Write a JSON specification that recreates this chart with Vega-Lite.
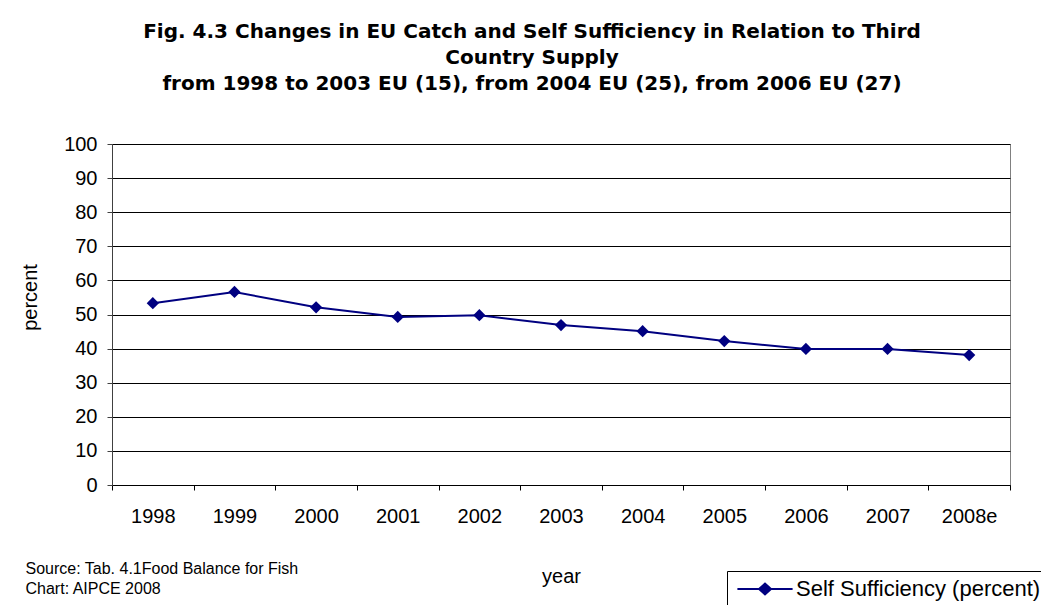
{
  "$schema": "https://vega.github.io/schema/vega-lite/v6.json",
  "width": 898,
  "height": 341,
  "autosize": "none",
  "padding": {"left": 112, "top": 144, "right": 31, "bottom": 120},
  "background": "white",
  "config": {
    "font": "Liberation Sans",
    "view": {"stroke": "#808080", "strokeWidth": 1}
  },
  "title": {
    "text": [
      "Fig. 4.3 Changes in EU Catch and Self Sufficiency in Relation to Third",
      "Country Supply",
      "from 1998 to 2003 EU (15), from 2004 EU (25), from 2006 EU (27)"
    ],
    "font": "DejaVu Sans",
    "fontSize": 20,
    "fontWeight": "bold",
    "color": "black",
    "anchor": "middle",
    "frame": "group",
    "dx": -29,
    "offset": 40,
    "lineHeight": 26
  },
  "data": {
    "values": [
      {"year": "1998", "value": 53.3, "series": "Self Sufficiency (percent)"},
      {"year": "1999", "value": 56.6, "series": "Self Sufficiency (percent)"},
      {"year": "2000", "value": 52.1, "series": "Self Sufficiency (percent)"},
      {"year": "2001", "value": 49.3, "series": "Self Sufficiency (percent)"},
      {"year": "2002", "value": 49.8, "series": "Self Sufficiency (percent)"},
      {"year": "2003", "value": 46.9, "series": "Self Sufficiency (percent)"},
      {"year": "2004", "value": 45.1, "series": "Self Sufficiency (percent)"},
      {"year": "2005", "value": 42.2, "series": "Self Sufficiency (percent)"},
      {"year": "2006", "value": 39.9, "series": "Self Sufficiency (percent)"},
      {"year": "2007", "value": 39.9, "series": "Self Sufficiency (percent)"},
      {"year": "2008e", "value": 38.1, "series": "Self Sufficiency (percent)"}
    ]
  },
  "encoding": {
    "y": {
      "field": "value",
      "type": "quantitative",
      "scale": {"domain": [0, 100], "nice": false},
      "axis": {
        "title": "percent",
        "values": [0, 10, 20, 30, 40, 50, 60, 70, 80, 90, 100],
        "tickCount": 20,
        "labelOverlap": false,
        "tickSize": 5,
        "tickColor": "#404040",
        "domainColor": "#404040",
        "labelPadding": 10,
        "labelFontSize": 20,
        "labelColor": "black",
        "titleFontSize": 20,
        "titleFontWeight": "normal",
        "titleColor": "black",
        "titlePadding": 23,
        "titleY": 153,
        "grid": true,
        "gridColor": "black",
        "gridWidth": 1
      }
    },
    "color": {
      "field": "series",
      "type": "nominal",
      "scale": {"range": ["#000080"]},
      "legend": {
        "title": null,
        "orient": "none",
        "legendX": 615,
        "legendY": 427,
        "strokeColor": "black",
        "fillColor": "white",
        "padding": 7,
        "labelFontSize": 22,
        "labelColor": "black",
        "labelLimit": 0,
        "symbolType": "M-4.6,0H4.6M-1,0L0,-0.9L1,0L0,0.9Z",
        "symbolSize": 144,
        "symbolStrokeWidth": 2,
        "symbolStrokeColor": "#000080",
        "symbolFillColor": "#000080",
        "symbolOffset": 20,
        "labelOffset": 20
      }
    }
  },
  "layer": [
    {
      "mark": {"type": "line", "strokeWidth": 2},
      "encoding": {
        "x": {
          "field": "year",
          "type": "nominal",
          "sort": null,
          "scale": {"type": "band", "paddingInner": 0, "paddingOuter": 0},
          "axis": {
            "orient": "bottom",
            "title": "year",
            "labelAngle": 0,
            "tickBand": "extent",
            "tickSize": 5,
            "tickColor": "black",
            "domainColor": "black",
            "labelPadding": 16,
            "labelFontSize": 20,
            "labelColor": "black",
            "titleFontSize": 20,
            "titleFontWeight": "normal",
            "titleColor": "black",
            "titlePadding": 40,
            "grid": false
          }
        }
      }
    },
    {
      "mark": {"type": "point", "shape": "diamond", "filled": true, "size": 150, "opacity": 1},
      "encoding": {
        "x": {
          "field": "year",
          "type": "nominal",
          "sort": null,
          "axis": {
            "orient": "bottom",
            "title": ["Source: Tab. 4.1Food Balance for Fish", "Chart: AIPCE 2008"],
            "labels": false,
            "ticks": false,
            "domain": false,
            "grid": false,
            "titleFontSize": 16,
            "titleFontWeight": "normal",
            "titleColor": "black",
            "titleX": -87,
            "titleY": 88,
            "titleAlign": "left",
            "titleAnchor": "start",
            "titleBaseline": "alphabetic",
            "titleLineHeight": 20
          }
        }
      }
    }
  ],
  "resolve": {"axis": {"x": "independent"}}
}
